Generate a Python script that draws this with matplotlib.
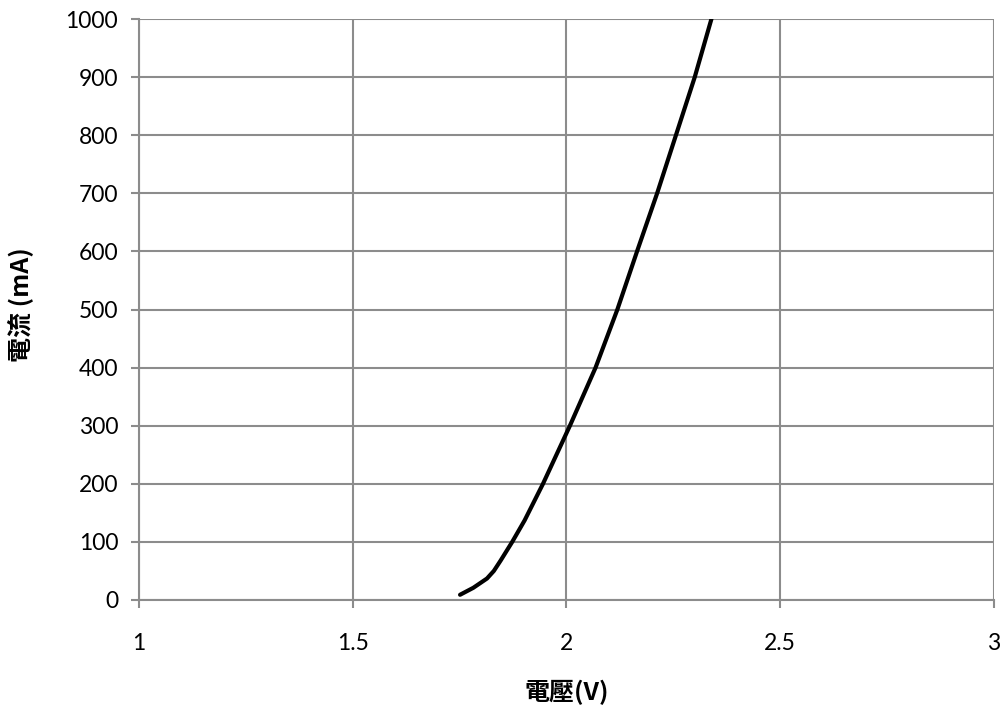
import matplotlib
matplotlib.use("Agg")
import matplotlib.pyplot as plt

# LED forward voltage vs current
voltage = [1.751, 1.782, 1.814, 1.830, 1.846, 1.873, 1.902, 1.945, 2.008,
           2.068, 2.119, 2.165, 2.212, 2.256, 2.300, 2.339]
current = [9, 21, 37, 50, 68, 100, 137, 200, 300,
           400, 500, 600, 700, 800, 900, 1000]

x_ticks = [1, 1.5, 2, 2.5, 3]
x_tick_labels = ["1", "1.5", "2", "2.5", "3"]
y_ticks = list(range(0, 1001, 100))

fig = plt.figure(figsize=(10.04, 7.10), dpi=100)
ax = fig.add_axes([139 / 1004, 1 - 600 / 710, (994 - 139) / 1004, (600 - 19) / 710])

ax.plot(voltage, current, color="black", linewidth=3, solid_capstyle="round",
        solid_joinstyle="round", zorder=3)

ax.set_xlim(1, 3)
ax.set_ylim(0, 1000)
ax.set_xticks(x_ticks)
ax.set_xticklabels(x_tick_labels)
ax.set_yticks(y_ticks)

grid_col = "#8c8c8c"
ax.grid(True, color=grid_col, linewidth=1.5)
ax.set_axisbelow(True)
for side in ["top", "right"]:
    ax.spines[side].set_visible(False)
for side in ["left", "bottom"]:
    ax.spines[side].set_color(grid_col)
    ax.spines[side].set_linewidth(1.5)
ax.tick_params(axis="both", direction="out", length=6, width=1.5, color=grid_col,
               labelsize=16.5, pad=9)
ax.tick_params(axis="x", pad=18)
for lab in ax.get_xticklabels() + ax.get_yticklabels():
    lab.set_family("Lato")

fig.text(567 / 1004, 1 - 692 / 710, "電壓(V)", ha="center", va="center",
         fontsize=18, fontweight="bold", family=["Noto Sans CJK TC", "DejaVu Sans"])
fig.text(21 / 1004, 1 - 305 / 710, "電流 (mA)", ha="center", va="center", rotation=90,
         fontsize=18, fontweight="bold", family=["Noto Sans CJK TC", "DejaVu Sans"])

fig.savefig("out.png", dpi=100)
